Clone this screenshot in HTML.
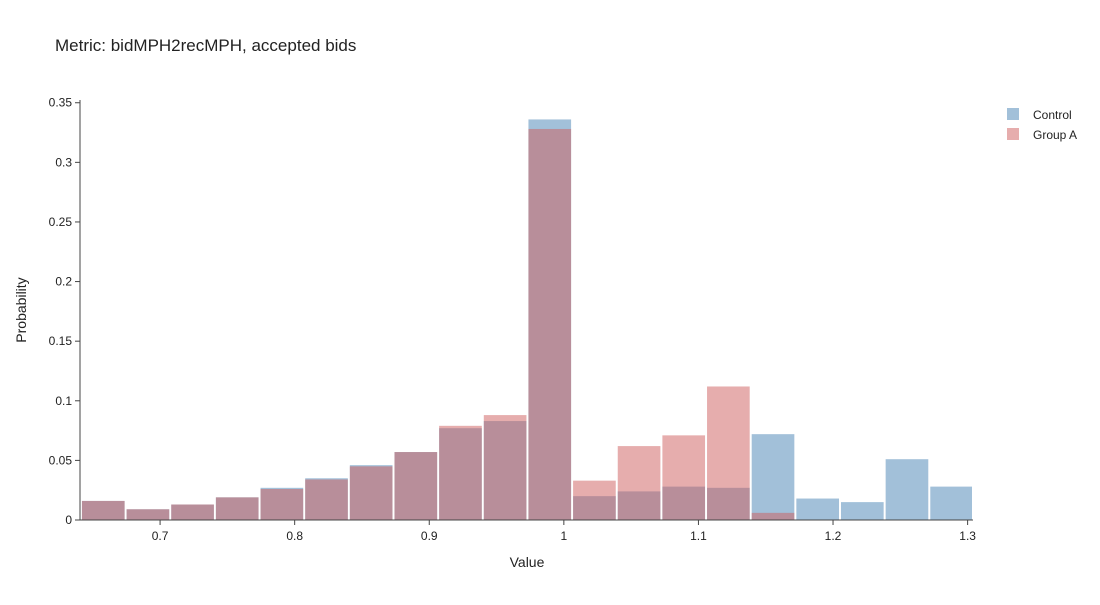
<!DOCTYPE html>
<html><head><meta charset="utf-8"><style>
body{margin:0;background:#fff;font-family:"Liberation Sans",sans-serif}
</style></head><body>
<svg id="chart" width="1100" height="600" xmlns="http://www.w3.org/2000/svg" style="font-family:'Liberation Sans',sans-serif">
<text x="55" y="51" font-size="17" fill="#222">Metric: bidMPH2recMPH, accepted bids</text>
<g id="bars"></g>
<g id="axes"></g>
<text x="527" y="567" font-size="14" text-anchor="middle" fill="#222">Value</text>
<text transform="translate(26,310) rotate(-90)" font-size="14" text-anchor="middle" fill="#222">Probability</text>
<g>
<g><rect x="1007" y="108" width="12" height="12" fill="rgb(70,130,180)" opacity="0.5"/><text x="1033" y="119" font-size="12" fill="#222">Control</text></g>
<g><rect x="1007" y="128" width="12" height="12" fill="rgb(205,92,92)" opacity="0.5"/><text x="1033" y="139" font-size="12" fill="#222">Group A</text></g>
</g>
</svg>
<script>
const binStart = 0.6412, binSize = 0.033175;
const controlValues = [0.016,0.009,0.013,0.019,0.027,0.035,0.046,0.057,0.077,0.083,0.336,0.020,0.024,0.028,0.027,0.072,0.018,0.015,0.051,0.028];
const groupAValues = [0.016,0.009,0.013,0.019,0.026,0.034,0.045,0.057,0.079,0.088,0.328,0.033,0.062,0.071,0.112,0.006,0,0,0,0];
const xTicks = [0.7,0.8,0.9,1,1.1,1.2,1.3];
const xTickLabels = ["0.7","0.8","0.9","1","1.1","1.2","1.3"];
const yTicks = [0,0.05,0.1,0.15,0.2,0.25,0.3,0.35];
const yTickLabels = ["0","0.05","0.1","0.15","0.2","0.25","0.3","0.35"];
const X0=80,X1=973,Y0=520,Y1=100;
const xMin=0.6405,xMax=1.304,yMax=0.3523;
const xs=v=>X0+(v-xMin)/(xMax-xMin)*(X1-X0);
const ys=v=>Y0-v/yMax*(Y0-Y1);
const NS="http://www.w3.org/2000/svg";
const bars=document.getElementById('bars');
function drawSeries(vals,color){
  vals.forEach((v,i)=>{
    if(v<=0)return;
    const a=Math.max(X0,xs(binStart+i*binSize)),b=Math.min(X1,xs(binStart+(i+1)*binSize));
    const r=document.createElementNS(NS,'rect');
    r.setAttribute('x',a+1);r.setAttribute('width',b-a-2);
    r.setAttribute('y',ys(v));r.setAttribute('height',Y0-ys(v));
    r.setAttribute('fill',color);r.setAttribute('opacity','0.5');
    
    
    bars.appendChild(r);
  });
}
drawSeries(controlValues,'rgb(70,130,180)');
drawSeries(groupAValues,'rgb(205,92,92)');
const axes=document.getElementById('axes');
let h='';
h+=`<line x1="${X0}" y1="${Y0}" x2="${X1}" y2="${Y0}" stroke="#444"/>`;
h+=`<line x1="${X0}" y1="${Y1}" x2="${X0}" y2="${Y0}" stroke="#444"/>`;
axes.innerHTML=h;
xTicks.forEach((t,i)=>{
  const x=xs(t);
  const l=document.createElementNS(NS,'line');
  l.setAttribute('x1',x);l.setAttribute('x2',x);l.setAttribute('y1',Y0);l.setAttribute('y2',Y0+5);l.setAttribute('stroke','#444');
  
  
  axes.appendChild(l);
  const tx=document.createElementNS(NS,'text');
  tx.setAttribute('x',x);tx.setAttribute('y',Y0+20);tx.setAttribute('font-size','12');tx.setAttribute('text-anchor','middle');tx.setAttribute('fill','#222');
  tx.textContent=xTickLabels[i];
  
  
  axes.appendChild(tx);
});
yTicks.forEach((t,i)=>{
  const y=ys(t);
  const l=document.createElementNS(NS,'line');
  l.setAttribute('x1',X0-5);l.setAttribute('x2',X0);l.setAttribute('y1',y);l.setAttribute('y2',y);l.setAttribute('stroke','#444');
  
  
  axes.appendChild(l);
  const tx=document.createElementNS(NS,'text');
  tx.setAttribute('x',X0-8);tx.setAttribute('y',y+4);tx.setAttribute('font-size','12');tx.setAttribute('text-anchor','end');tx.setAttribute('fill','#222');
  tx.textContent=yTickLabels[i];
  
  
  axes.appendChild(tx);
});
</script>
</body></html>
